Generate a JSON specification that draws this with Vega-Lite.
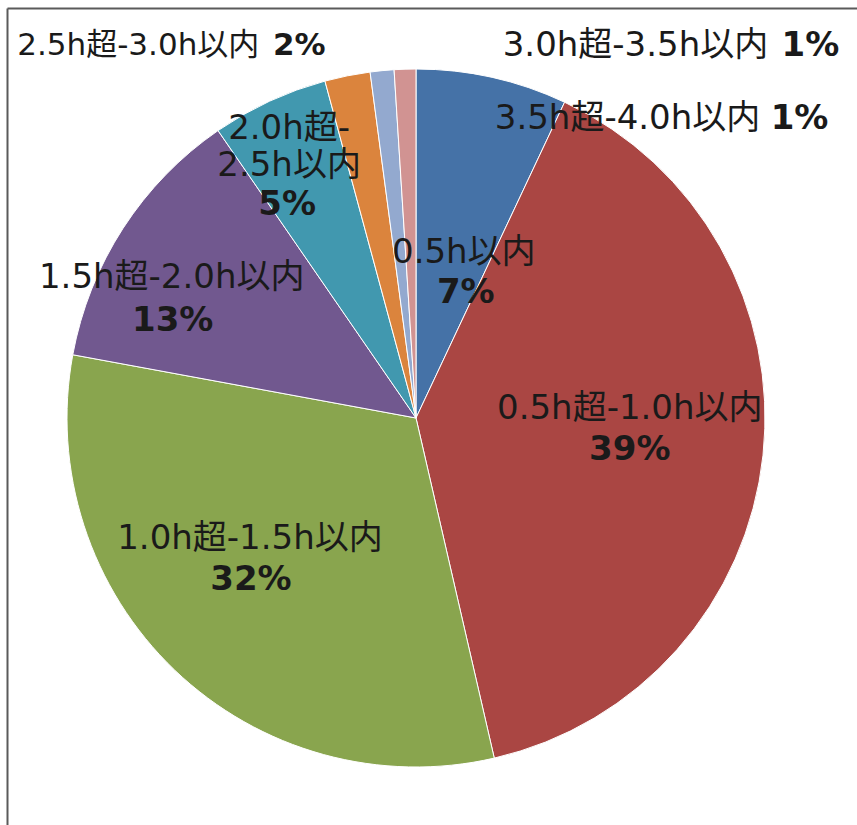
{
  "$schema": "https://vega.github.io/schema/vega-lite/v6.json",
  "autosize": {"type": "none"},
  "width": 818,
  "height": 814,
  "padding": {"left": 7, "top": 11, "right": 32, "bottom": 0},
  "background": "white",
  "data": {
    "values": [
      {"idx": 1, "category": "0.5h以内", "value": 7.0, "label": "0.5h以内", "pct": "7%"},
      {"idx": 2, "category": "0.5h超-1.0h以内", "value": 39.4, "label": "0.5h超-1.0h以内", "pct": "39%"},
      {"idx": 3, "category": "1.0h超-1.5h以内", "value": 31.5, "label": "1.0h超-1.5h以内", "pct": "32%"},
      {"idx": 4, "category": "1.5h超-2.0h以内", "value": 12.5, "label": "1.5h超-2.0h以内", "pct": "13%"},
      {"idx": 5, "category": "2.0h超-2.5h以内", "value": 5.4, "label": ["2.0h超-", "2.5h以内"], "pct": "5%"},
      {"idx": 6, "category": "2.5h超-3.0h以内", "value": 2.1, "label": "2.5h超-3.0h以内", "pct": "2%"},
      {"idx": 7, "category": "3.0h超-3.5h以内", "value": 1.1, "label": "3.0h超-3.5h以内", "pct": "1%"},
      {"idx": 8, "category": "3.5h超-4.0h以内", "value": 1.0, "label": "3.5h超-4.0h以内", "pct": "1%"}
    ]
  },
  "layer": [
    {
      "mark": {"type": "point", "opacity": 0},
      "encoding": {
        "x": {"datum": 0, "type": "quantitative", "scale": {"domain": [0, 1], "range": [0, 850]},
              "axis": {"orient": "top", "offset": 3, "labels": false, "ticks": false, "grid": false, "title": null, "domain": true, "domainColor": "#5a5a5a", "domainWidth": 2}},
        "y": {"datum": 0, "type": "quantitative", "scale": {"domain": [0, 1], "range": [814, -3]},
              "axis": {"orient": "left", "offset": 0, "labels": false, "ticks": false, "grid": false, "title": null, "domain": true, "domainColor": "#5a5a5a", "domainWidth": 2}}
      }
    },
    {
      "mark": {"type": "arc", "outerRadius": 349, "stroke": "white", "strokeWidth": 1},
      "encoding": {
        "theta": {"field": "value", "type": "quantitative", "stack": true},
        "order": {"field": "idx", "type": "quantitative"},
        "color": {"field": "category", "type": "nominal", "legend": null,
                  "scale": {"domain": ["0.5h以内", "0.5h超-1.0h以内", "1.0h超-1.5h以内", "1.5h超-2.0h以内", "2.0h超-2.5h以内", "2.5h超-3.0h以内", "3.0h超-3.5h以内", "3.5h超-4.0h以内"],
                            "range": ["#4572A7", "#AA4643", "#89A54E", "#71588F", "#4198AF", "#DB843D", "#93A9CF", "#D19392"]}}
      }
    },
    {"mark": {"type": "text", "radius": 155, "dx": 14, "dy": -14},
     "encoding": {"theta": {"field": "value", "type": "quantitative", "stack": true}, "order": {"field": "idx", "type": "quantitative"},
                  "text": {"condition": {"test": "datum.idx === 1", "field": "label", "type": "nominal"}, "value": ""}}},
    {"mark": {"type": "text", "radius": 155, "dx": 16, "dy": 26, "fontWeight": "bold"},
     "encoding": {"theta": {"field": "value", "type": "quantitative", "stack": true}, "order": {"field": "idx", "type": "quantitative"},
                  "text": {"condition": {"test": "datum.idx === 1", "field": "pct", "type": "nominal"}, "value": ""}}},
    {"mark": {"type": "text", "radius": 214, "dx": 1, "dy": -32},
     "encoding": {"theta": {"field": "value", "type": "quantitative", "stack": true}, "order": {"field": "idx", "type": "quantitative"},
                  "text": {"condition": {"test": "datum.idx === 2", "field": "label", "type": "nominal"}, "value": ""}}},
    {"mark": {"type": "text", "radius": 214, "dx": 1, "dy": 9, "fontWeight": "bold"},
     "encoding": {"theta": {"field": "value", "type": "quantitative", "stack": true}, "order": {"field": "idx", "type": "quantitative"},
                  "text": {"condition": {"test": "datum.idx === 2", "field": "pct", "type": "nominal"}, "value": ""}}},
    {"mark": {"type": "text", "radius": 217, "dx": -16, "dy": -36},
     "encoding": {"theta": {"field": "value", "type": "quantitative", "stack": true}, "order": {"field": "idx", "type": "quantitative"},
                  "text": {"condition": {"test": "datum.idx === 3", "field": "label", "type": "nominal"}, "value": ""}}},
    {"mark": {"type": "text", "radius": 217, "dx": -15, "dy": 5, "fontWeight": "bold"},
     "encoding": {"theta": {"field": "value", "type": "quantitative", "stack": true}, "order": {"field": "idx", "type": "quantitative"},
                  "text": {"condition": {"test": "datum.idx === 3", "field": "pct", "type": "nominal"}, "value": ""}}},
    {"mark": {"type": "text", "radius": 272, "dx": -16, "dy": 8},
     "encoding": {"theta": {"field": "value", "type": "quantitative", "stack": true}, "order": {"field": "idx", "type": "quantitative"},
                  "text": {"condition": {"test": "datum.idx === 4", "field": "label", "type": "nominal"}, "value": ""}}},
    {"mark": {"type": "text", "radius": 272, "dx": -15, "dy": 51, "fontWeight": "bold"},
     "encoding": {"theta": {"field": "value", "type": "quantitative", "stack": true}, "order": {"field": "idx", "type": "quantitative"},
                  "text": {"condition": {"test": "datum.idx === 4", "field": "pct", "type": "nominal"}, "value": ""}}},
    {"mark": {"type": "text", "radius": 283, "dx": -8, "dy": -49, "baseline": "top", "lineHeight": 37},
     "encoding": {"theta": {"field": "value", "type": "quantitative", "stack": true}, "order": {"field": "idx", "type": "quantitative"},
                  "text": {"condition": {"test": "datum.idx === 5", "field": "label", "type": "nominal"}, "value": ""}}},
    {"mark": {"type": "text", "radius": 283, "dx": -10, "dy": 44, "fontWeight": "bold"},
     "encoding": {"theta": {"field": "value", "type": "quantitative", "stack": true}, "order": {"field": "idx", "type": "quantitative"},
                  "text": {"condition": {"test": "datum.idx === 5", "field": "pct", "type": "nominal"}, "value": ""}}},
    {"mark": {"type": "text", "radius": 380, "dx": -203, "dy": 1, "fontSize": 31},
     "encoding": {"theta": {"field": "value", "type": "quantitative", "stack": true}, "order": {"field": "idx", "type": "quantitative"},
                  "text": {"condition": {"test": "datum.idx === 6", "field": "label", "type": "nominal"}, "value": ""}}},
    {"mark": {"type": "text", "radius": 380, "dx": -42, "dy": 1, "fontSize": 31, "fontWeight": "bold"},
     "encoding": {"theta": {"field": "value", "type": "quantitative", "stack": true}, "order": {"field": "idx", "type": "quantitative"},
                  "text": {"condition": {"test": "datum.idx === 6", "field": "pct", "type": "nominal"}, "value": ""}}},
    {"mark": {"type": "text", "radius": 376, "dx": 256, "dy": 2},
     "encoding": {"theta": {"field": "value", "type": "quantitative", "stack": true}, "order": {"field": "idx", "type": "quantitative"},
                  "text": {"condition": {"test": "datum.idx === 7", "field": "label", "type": "nominal"}, "value": ""}}},
    {"mark": {"type": "text", "radius": 376, "dx": 431, "dy": 2, "fontWeight": "bold"},
     "encoding": {"theta": {"field": "value", "type": "quantitative", "stack": true}, "order": {"field": "idx", "type": "quantitative"},
                  "text": {"condition": {"test": "datum.idx === 7", "field": "pct", "type": "nominal"}, "value": ""}}},
    {"mark": {"type": "text", "radius": 301, "dx": 221, "dy": 2},
     "encoding": {"theta": {"field": "value", "type": "quantitative", "stack": true}, "order": {"field": "idx", "type": "quantitative"},
                  "text": {"condition": {"test": "datum.idx === 8", "field": "label", "type": "nominal"}, "value": ""}}},
    {"mark": {"type": "text", "radius": 301, "dx": 393, "dy": 2, "fontWeight": "bold"},
     "encoding": {"theta": {"field": "value", "type": "quantitative", "stack": true}, "order": {"field": "idx", "type": "quantitative"},
                  "text": {"condition": {"test": "datum.idx === 8", "field": "pct", "type": "nominal"}, "value": ""}}}
  ],
  "config": {
    "view": {"stroke": null},
    "text": {"font": "DejaVu Sans, Noto Sans CJK JP", "fontSize": 34, "align": "center", "baseline": "middle", "fill": "#1a1a1a"}
  }
}
